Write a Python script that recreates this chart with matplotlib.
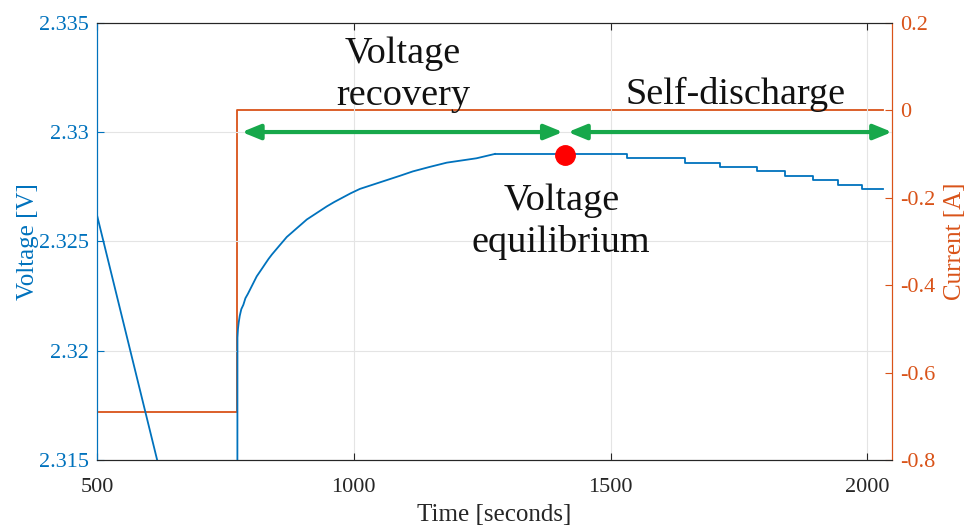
import matplotlib
matplotlib.use("Agg")
import matplotlib.pyplot as plt

# ---------------- data ----------------
# discharge segment (before rest)
discharge_time = [500, 773]
discharge_voltage = [2.3262, 2.3001]

# voltage recovery after current interruption
recovery_time = [773, 773.5, 774.5, 776, 778, 781, 785, 789, 793.8, 798.1, 802.4, 806.7, 811,
                 816.8, 822.6, 828.3, 834.1, 840.6, 847.8, 855, 862.3, 869.5, 879.3, 889,
                 898.8, 908.5, 921.5, 934.5, 947.5, 962, 978, 994, 1012, 1038, 1064, 1090,
                 1115, 1147, 1181, 1239, 1275]
recovery_voltage = [2.3001, 2.3206, 2.3210, 2.3213, 2.3216, 2.3219, 2.3221, 2.3224, 2.3226,
                    2.3228, 2.3230, 2.3232, 2.3234, 2.3236, 2.3238, 2.3240, 2.3242, 2.3244,
                    2.3246, 2.3248, 2.3250, 2.3252, 2.3254, 2.3256, 2.3258, 2.3260, 2.3262,
                    2.3264, 2.3266, 2.3268, 2.3270, 2.3272, 2.3274, 2.3276, 2.3278, 2.3280,
                    2.3282, 2.3284, 2.3286, 2.3288, 2.3290]

# self-discharge (quantised steps)
selfdis_time = [1275, 1532, 1645, 1713, 1786, 1840, 1895, 1943, 1990, 2030]
selfdis_voltage = [2.3290, 2.3288, 2.3286, 2.3284, 2.3282, 2.3280, 2.3278, 2.3276, 2.3274,
                   2.3274]

current_time = [500, 773, 773, 2030]
current_value = [-0.69, -0.69, 0.0, 0.0]

equilibrium_time = [1411]
equilibrium_voltage = [2.32895]

arrow_recovery = (782, 1407)
arrow_selfdis = (1417, 2048)
arrow_level = 2.33

x_ticks = [500, 1000, 1500, 2000]
v_ticks = [2.315, 2.32, 2.325, 2.33, 2.335]
v_tick_labels = ["2.315", "2.32", "2.325", "2.33", "2.335"]
i_ticks = [-0.8, -0.6, -0.4, -0.2, 0, 0.2]
i_tick_labels = ["-0.8", "-0.6", "-0.4", "-0.2", "0", "0.2"]

# ---------------- style ----------------
BLUE = "#0072BD"
ORANGE = "#D95319"
GREEN = "#17A84B"
plt.rcParams["font.family"] = ["Liberation Serif", "DejaVu Serif"]

fig = plt.figure(figsize=(9.68, 5.27), dpi=100)
ax = fig.add_axes([0.1002, 0.1271, 0.8213, 0.8298])
ax2 = ax.twinx()

ax.set_zorder(ax2.get_zorder() + 1)
ax.patch.set_visible(False)

# current (right axis)
ax2.plot(current_time, current_value, color=ORANGE, lw=1.3)
ax2.set_ylim(-0.8, 0.2)
ax2.set_yticks(i_ticks)
ax2.set_yticklabels(i_tick_labels)
ax2.tick_params(axis="y", direction="in", colors=ORANGE, labelsize=16, length=5, pad=6)
ax2.set_ylabel("Current [A]", color=ORANGE, fontsize=18, labelpad=6)

# voltage (left axis)
ax.plot(discharge_time, discharge_voltage, color=BLUE, lw=1.3)
ax.plot(recovery_time, recovery_voltage, color=BLUE, lw=1.3)
ax.plot(selfdis_time, selfdis_voltage, color=BLUE, lw=1.3, drawstyle="steps-post")
ax.plot(equilibrium_time, equilibrium_voltage, "o", color="#FF0000", ms=14, zorder=5)

ax.set_xlim(500, 2048)
ax.set_ylim(2.315, 2.335)
ax.set_xticks(x_ticks)
ax.set_yticks(v_ticks)
ax.set_yticklabels(v_tick_labels)
ax.grid(True, color="#E4E4E4", lw=0.8)
ax.tick_params(axis="y", direction="in", colors=BLUE, labelsize=16, length=5, pad=6)
ax.tick_params(axis="x", direction="in", colors="#262626", labelsize=16, length=5, pad=13,
               top=True)
ax.set_ylabel("Voltage [V]", color=BLUE, fontsize=18, labelpad=0)
ax.set_xlabel("Time [seconds]", color="#262626", fontsize=18, labelpad=5)

for a in (ax, ax2):
    a.spines["top"].set_color("#262626")
    a.spines["bottom"].set_color("#262626")
    a.spines["left"].set_color(BLUE)
    a.spines["right"].set_color(ORANGE)
    for s in a.spines.values():
        s.set_linewidth(0.8)

# arrows
arrow_kw = dict(arrowstyle="<|-|>,head_length=1.1,head_width=0.45", color=GREEN, lw=3,
                shrinkA=0, shrinkB=0)
ax.annotate("", xy=(arrow_recovery[1], arrow_level), xytext=(arrow_recovery[0], arrow_level),
            arrowprops=arrow_kw, zorder=4)
ax.annotate("", xy=(arrow_selfdis[1], arrow_level), xytext=(arrow_selfdis[0], arrow_level),
            arrowprops=arrow_kw, zorder=4, annotation_clip=False)

# annotations
ax.text(1096, 2.33262, "Voltage\nrecovery", ha="center", va="center", fontsize=27.5,
        linespacing=1.25, color="#111111")
ax.text(1743, 2.3317, "Self-discharge", ha="center", va="center", fontsize=27.5,
        color="#111111")
ax.text(1404, 2.3259, "Voltage\nequilibrium", ha="center", va="center", fontsize=27.5,
        linespacing=1.25, color="#111111")

fig.savefig("out.png", dpi=100)
